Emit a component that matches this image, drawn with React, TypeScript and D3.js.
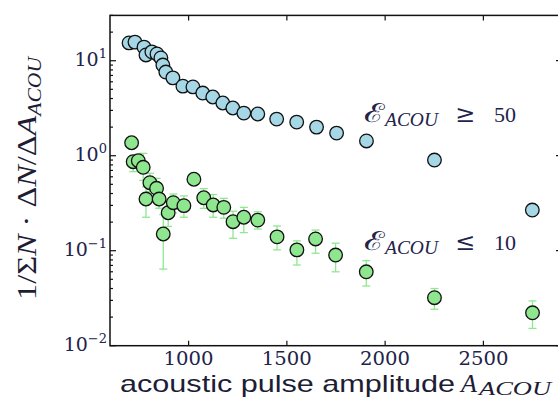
import React, { useEffect, useRef } from 'react';
import * as d3 from 'd3';

// amplitude bins and normalised rates
const blueX = [697, 727, 773, 783, 813, 839, 859, 869, 884, 920, 971, 1022, 1072, 1123, 1174, 1225, 1281, 1352, 1448, 1550, 1651, 1753, 1905, 2251, 2749];
const blueY = [15.4, 15.7, 13.9, 11.5, 12.4, 11.8, 10.7, 9.0, 7.6, 6.6, 5.4, 5.3, 4.57, 4.15, 3.59, 3.18, 2.81, 2.75, 2.43, 2.26, 2.0, 1.73, 1.43, 0.9, 0.268];

const greenX = [710, 718, 744, 769, 783, 803, 837, 850, 871, 896, 922, 976, 1027, 1077, 1125, 1179, 1226, 1281, 1352, 1450, 1551, 1646, 1748, 1904, 2251, 2750];
const greenY = [1.37, 0.865, 0.886, 0.755, 0.35, 0.52, 0.454, 0.35, 0.15, 0.251, 0.32, 0.298, 0.565, 0.361, 0.303, 0.286, 0.202, 0.225, 0.21, 0.14, 0.102, 0.133, 0.09, 0.06, 0.032, 0.0222];
const greenLo = [1.25, 0.68, 0.75, 0.55, 0.225, 0.42, 0.36, 0.28, 0.064, 0.18, 0.25, 0.225, 0.52, 0.279, 0.225, 0.22, 0.135, 0.155, 0.169, 0.102, 0.0707, 0.094, 0.06, 0.0425, 0.0242, 0.0152];
const greenHi = [1.5, 1.0, 1.0, 1.06, 0.47, 0.653, 0.578, 0.44, 0.24, 0.33, 0.395, 0.377, 0.62, 0.45, 0.39, 0.356, 0.26, 0.286, 0.257, 0.182, 0.127, 0.165, 0.12, 0.0785, 0.04, 0.0296];

const xTicks = [1000, 1500, 2000, 2500];
const yTicks = [0.01, 0.1, 1, 10];
const yTickExp = ['\u22122', '\u22121', '0', '1'];

const App = () => {
  const svgRef = useRef(null);

  useEffect(() => {
    const svg = d3.select(svgRef.current);
    svg.selectAll('*').remove();

    const left = 110, right = 562, top = 15.4, bottom = 345.7;
    const x = d3.scaleLinear().domain([600, 2900]).range([left, right]);
    const y = d3.scaleLog().domain([0.01, 30]).range([bottom, top]);
    const textCol = '#23234a';

    // frame
    svg.append('rect')
      .attr('x', left).attr('y', top)
      .attr('width', right - left).attr('height', bottom - top)
      .attr('fill', 'none').attr('stroke', '#111').attr('stroke-width', 1.5);

    // x ticks, inward on bottom and top
    const g = svg.append('g').attr('stroke', '#111').attr('stroke-width', 1.2);
    xTicks.forEach((t) => {
      g.append('line').attr('x1', x(t)).attr('x2', x(t)).attr('y1', bottom).attr('y2', bottom - 5);
      g.append('line').attr('x1', x(t)).attr('x2', x(t)).attr('y1', top).attr('y2', top + 5);
    });

    // y ticks (log, with minors), left and right
    const minors = y.ticks().filter((v) => v >= 0.01 && v <= 30);
    minors.forEach((v) => {
      const major = Math.abs(Math.log10(v) - Math.round(Math.log10(v))) < 1e-6;
      const len = major ? 6 : 3;
      g.append('line').attr('x1', left).attr('x2', left + len).attr('y1', y(v)).attr('y2', y(v));
      g.append('line').attr('x1', right).attr('x2', right - len).attr('y1', y(v)).attr('y2', y(v));
    });

    // x tick labels
    svg.append('g').selectAll('text').data(xTicks).enter().append('text')
      .attr('x', (d) => x(d)).attr('y', 365)
      .attr('text-anchor', 'middle')
      .attr('font-family', 'DejaVu Serif').attr('font-size', 18)
      .attr('textLength', 50).attr('lengthAdjust', 'spacingAndGlyphs')
      .attr('fill', textCol)
      .text((d) => String(d));

    // y tick labels 10^k
    yTicks.forEach((v, i) => {
      const t = svg.append('text')
        .attr('x', 107).attr('y', y(v) + 5)
        .attr('text-anchor', 'end')
        .attr('font-family', 'DejaVu Serif').attr('font-size', 19)
        .attr('fill', textCol);
      t.append('tspan').text('10');
      t.append('tspan').attr('dy', -8).attr('font-size', 13).text(yTickExp[i]);
    });

    // error bars for low-energy set
    const eb = svg.append('g').attr('stroke', '#8fe88f').attr('stroke-width', 1.3);
    greenX.forEach((xv, i) => {
      const cx = x(xv);
      eb.append('line').attr('x1', cx).attr('x2', cx).attr('y1', y(greenLo[i])).attr('y2', y(greenHi[i]));
      eb.append('line').attr('x1', cx - 4).attr('x2', cx + 4).attr('y1', y(greenLo[i])).attr('y2', y(greenLo[i]));
      eb.append('line').attr('x1', cx - 4).attr('x2', cx + 4).attr('y1', y(greenHi[i])).attr('y2', y(greenHi[i]));
    });

    // markers
    svg.append('g').selectAll('circle').data(blueX).enter().append('circle')
      .attr('cx', (d) => x(d)).attr('cy', (d, i) => y(blueY[i]))
      .attr('r', 6.8)
      .attr('fill', '#a6d7e6').attr('stroke', '#111').attr('stroke-width', 1.3);

    svg.append('g').selectAll('circle').data(greenX).enter().append('circle')
      .attr('cx', (d) => x(d)).attr('cy', (d, i) => y(greenY[i]))
      .attr('r', 6.8)
      .attr('fill', '#8ee68e').attr('stroke', '#111').attr('stroke-width', 1.3);

    // annotations
    const note = (yy, rel, val) => {
      const t = svg.append('text')
        .attr('y', yy)
        .attr('font-family', 'Liberation Serif').attr('font-size', 22)
        .attr('fill', textCol);
      t.append('tspan').attr('x', 364).attr('font-family', 'DejaVu Serif').attr('font-size', 26)
        .attr('textLength', 21).attr('lengthAdjust', 'spacingAndGlyphs').text('\u2130');
      t.append('tspan').attr('x', 385).attr('dy', 4).attr('font-size', 19).attr('font-style', 'italic')
        .attr('textLength', 53).attr('lengthAdjust', 'spacingAndGlyphs').text('ACOU');
      t.append('tspan').attr('x', 455).attr('dy', -4).attr('font-family', 'DejaVu Serif').attr('font-size', 24).text(rel);
      t.append('tspan').attr('x', 494).text(val);
    };
    note(122, '\u2265', '50');
    note(250, '\u2264', '10');

    // x axis label
    svg.append('text')
      .attr('x', 120).attr('y', 392)
      .attr('font-family', 'Liberation Sans').attr('font-size', 24)
      .attr('textLength', 335).attr('lengthAdjust', 'spacingAndGlyphs')
      .attr('fill', '#1d1d35')
      .text('acoustic pulse amplitude');
    const xs = svg.append('text')
      .attr('x', 461).attr('y', 392)
      .attr('font-family', 'Liberation Serif').attr('font-style', 'italic')
      .attr('fill', '#1d1d35');
    xs.append('tspan').attr('font-size', 26).text('A');
    xs.append('tspan').attr('x', 479).attr('dy', 3).attr('font-size', 18)
      .attr('textLength', 72).attr('lengthAdjust', 'spacingAndGlyphs').text('ACOU');

    // y axis label
    const yl = svg.append('text')
      .attr('transform', 'translate(36,178.5) rotate(-90)')
      .attr('text-anchor', 'middle')
      .attr('font-family', 'Liberation Serif').attr('font-size', 27)
      .attr('textLength', 243).attr('lengthAdjust', 'spacingAndGlyphs')
      .attr('fill', '#1d1d35');
    yl.append('tspan').text('1/\u03a3');
    yl.append('tspan').attr('font-style', 'italic').text('N');
    yl.append('tspan').text(' \u00b7 \u0394');
    yl.append('tspan').attr('font-style', 'italic').text('N');
    yl.append('tspan').text('/\u0394');
    yl.append('tspan').attr('font-style', 'italic').text('A');
    yl.append('tspan').attr('dy', 5).attr('font-style', 'italic').attr('font-size', 18).text('ACOU');
  }, []);

  return (
    <svg ref={svgRef} width={558} height={399}
      style={{ position: 'absolute', left: 0, top: 0, background: '#fff' }} />
  );
};

export default App;
